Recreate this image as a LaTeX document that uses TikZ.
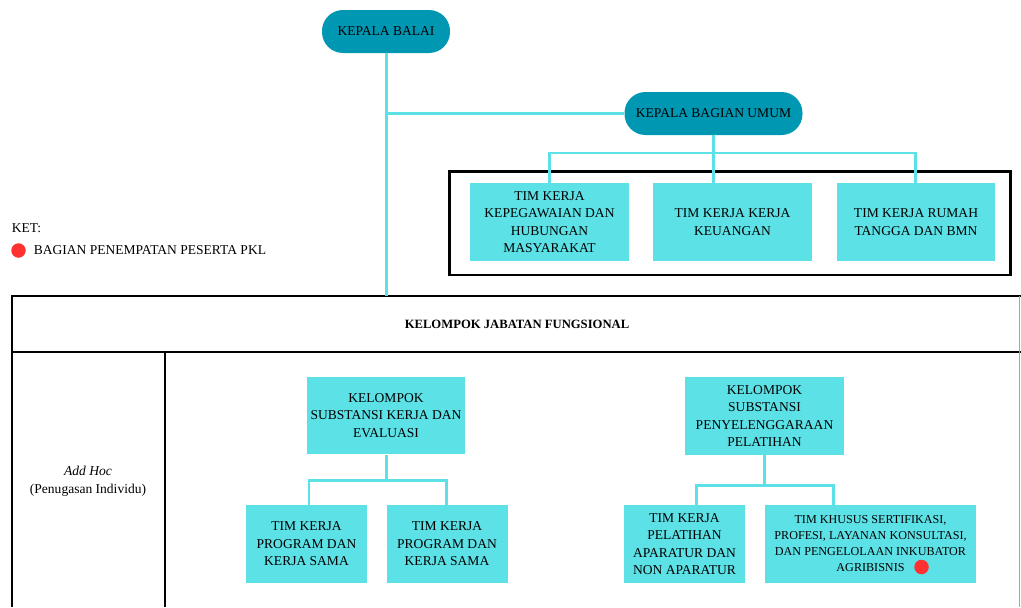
\documentclass[tikz,border=0pt]{standalone}
\usepackage{fontspec}
\setmainfont{Liberation Serif}
\begin{document}
\begin{tikzpicture}[
  pill/.style={fill=headcolor,rounded corners=0.42cm,minimum height=0.86cm,inner sep=0pt,align=center,font=\fontsize{7.7}{10}\selectfont},
  unit/.style={fill=boxcolor,minimum height=1.55cm,inner sep=0pt,align=center,font=\fontsize{7.7}{10}\selectfont},
  txt/.style={inner sep=0pt,align=center,font=\fontsize{7.7}{10}\selectfont},
  link/.style={draw=linecolor,line width=1.7pt},
  frame/.style={draw=black,line width=1.4pt},
  mark dot/.style={circle,fill=dotcolor,minimum size=0.29cm,inner sep=0pt}
]
\definecolor{headcolor}{RGB}{0,151,178}
\definecolor{boxcolor}{RGB}{92,225,230}
\definecolor{linecolor}{RGB}{92,225,230}
\definecolor{dotcolor}{RGB}{255,49,49}
\useasboundingbox (0,0) rectangle (20.42,12.14);
% heads
\node (balai) at (7.72,11.51) [pill,minimum width=2.56cm] {KEPALA BALAI};
\node (umum) at (14.27,9.87) [pill,minimum width=3.56cm] {KEPALA BAGIAN UMUM};
% general section teams
\draw (8.99,6.64) [line width=1.7pt] rectangle (20.20,8.71);
\node (peg) at (10.99,7.70) [unit,minimum width=3.17cm] {TIM KERJA\\KEPEGAWAIAN DAN\\HUBUNGAN\\MASYARAKAT};
\node (keu) at (14.65,7.70) [unit,minimum width=3.17cm] {TIM KERJA KERJA\\KEUANGAN};
\node (rt) at (18.32,7.70) [unit,minimum width=3.17cm] {TIM KERJA RUMAH\\TANGGA DAN BMN};
% legend
\node (ket) at (0.23,7.57) [txt,anchor=west] {KET:};
\node (dot1) at (0.37,7.13) [mark dot] {};
\node (pkl) at (0.67,7.14) [txt,anchor=west] {BAGIAN PENEMPATAN PESERTA PKL};
% functional group frame
\draw (0.24,0) [frame] -- (0.24,6.22) -- (20.42,6.22);
\draw (0.24,5.10) [frame] -- (20.42,5.10);
\draw (3.30,5.10) [draw=black,line width=1.1pt] -- (3.30,0);
\draw (20.39,6.22) [draw=black!35,line width=0.5pt] -- (20.39,0);
\node (jabatan) at (10.34,5.66) [txt,minimum height=1.12cm,font=\fontsize{7.2}{9}\selectfont\bfseries] {KELOMPOK JABATAN FUNGSIONAL};
\node (adhoc) at (1.76,2.52) [txt] {\textit{Add Hoc}\\(Penugasan Individu)};
% substance groups
\node (ske) at (7.72,3.83) [unit,minimum width=3.16cm] {KELOMPOK\\SUBSTANSI KERJA DAN\\EVALUASI};
\node (prog1) at (6.13,1.26) [unit,minimum width=2.42cm] {TIM KERJA\\PROGRAM DAN\\KERJA SAMA};
\node (prog2) at (8.94,1.26) [unit,minimum width=2.42cm] {TIM KERJA\\PROGRAM DAN\\KERJA SAMA};
\node (spp) at (15.29,3.82) [unit,minimum width=3.18cm] {KELOMPOK\\SUBSTANSI\\PENYELENGGARAAN\\PELATIHAN};
\node (pel) at (13.69,1.26) [unit,minimum width=2.43cm] {TIM KERJA\\PELATIHAN\\APARATUR DAN\\NON APARATUR};
\node (khusus) at (17.41,1.26) [unit,minimum width=4.22cm,font=\fontsize{6.9}{9.1}\selectfont] {TIM KHUSUS SERTIFIKASI,\\PROFESI, LAYANAN KONSULTASI,\\DAN PENGELOLAAN INKUBATOR\\AGRIBISNIS};
\node (dot2) at (18.43,0.80) [mark dot] {};
% connectors
\coordinate (b1) at (10.98,9.08);
\coordinate (b2) at (18.31,9.08);
\coordinate (s1) at (6.18,2.54);
\coordinate (s2) at (8.93,2.54);
\coordinate (p1) at (13.92,2.44);
\coordinate (p2) at (16.66,2.44);
\draw [link] (balai.south) -- (balai.south |- jabatan.north);
\draw [link] (balai.south |- umum.west) -- (umum.west);
\draw [link] (umum.south) -- (umum.south |- keu.north);
\draw [link] (b1 |- peg.north) -- (b1) -- (b2) -- (b2 |- rt.north);
\draw [link] (ske.south) -- (ske.south |- s1);
\draw [link] (s1 |- prog1.north) -- (s1) -- (s2) -- (s2 |- prog2.north);
\draw [link] (spp.south) -- (spp.south |- p1);
\draw [link] (p1 |- pel.north) -- (p1) -- (p2) -- (p2 |- khusus.north);
\end{tikzpicture}
\end{document}
